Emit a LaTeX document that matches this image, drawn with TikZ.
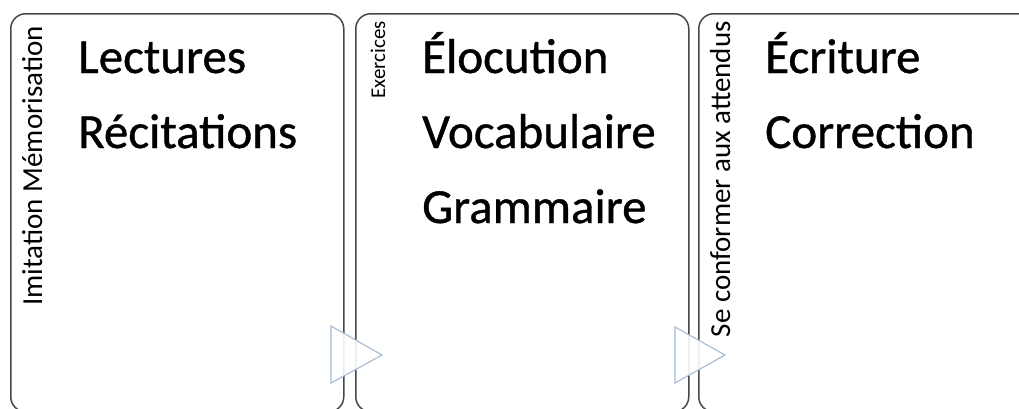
\documentclass[tikz,border=0pt]{standalone}
\usepackage{fontspec}
\setmainfont{Carlito}
\newfontfamily\bigfont{Carlito}[FakeBold=0.8]
\definecolor{myblue}{HTML}{A3BCD6}
\tikzset{
  panel/.style={draw=black!72, line width=1.5pt, fill=white, rounded corners=15pt, inner sep=0pt, anchor=north west},
  bigtxt/.style={font=\bigfont\fontsize{49}{49}\selectfont, anchor=base west, inner sep=0pt, text=black},
  sidetxt/.style={font=\fontsize{29}{29}\selectfont, rotate=90, anchor=base east, inner sep=0pt, text=black},
  flow/.style={draw=myblue, line width=1.1pt, fill=white, fill opacity=0.9, line join=miter}
}
\begin{document}
\begin{tikzpicture}[x=1pt,y=-1pt]
\useasboundingbox (0,0) rectangle (1019,408);
\clip (0,0) rectangle (1019,408);
% panels
\node[panel, minimum width=333pt, minimum height=398pt] (p1) at (10,13) {};
\node[panel, minimum width=333pt, minimum height=398pt] (p2) at (355,13) {};
\node[panel, minimum width=350pt, minimum height=398pt] (p3) at (698,13) {};
% side labels
\node[sidetxt] (l1) at (42,26) {Imitation Mémorisation};
\node[sidetxt, font=\fontsize{21}{21}\selectfont] (l2) at (385,21) {Exercices};
\node[sidetxt] (l3) at (730,21) {Se conformer aux attendus};
% main texts
\node[bigtxt] (a1) at (78,73) {Lectures};
\node[bigtxt] (a2) at (78,148) {Récitations};
\node[bigtxt] (b1) at (422,73) {Élocution};
\node[bigtxt] (b2) at (422,148) {Vocabulaire};
\node[bigtxt] (b3) at (422,223) {Grammaire};
\node[bigtxt] (c1) at (765,73) {Écriture};
\node[bigtxt] (c2) at (765,148) {Correction};
% flow arrows
\coordinate (t1) at (331,326);
\coordinate (t1b) at (331,383);
\coordinate (t1c) at (382,355);
\draw[flow] (t1) -- (t1c) -- (t1b) -- cycle;
\coordinate (t2) at (675,327);
\coordinate (t2b) at (675,383);
\coordinate (t2c) at (725,355);
\draw[flow] (t2) -- (t2c) -- (t2b) -- cycle;
\end{tikzpicture}
\end{document}
